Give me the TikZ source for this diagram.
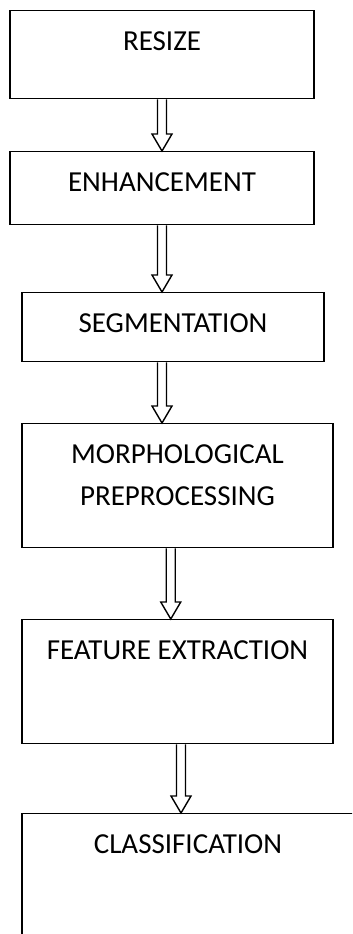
\documentclass[tikz,border=0pt]{standalone}
\usepackage{fontspec}
\setmainfont{Carlito}
\usepackage{tikz}
\usetikzlibrary{calc}
\tikzset{
 stepbox/.style={rectangle,draw,line width=0.8pt,align=center,anchor=north,inner ysep=0pt,inner xsep=0pt,
  text height=0.8cm,font=\fontsize{16.5pt}{23.8pt}\selectfont},
 blockarrow/.style={to path={let \p1=(\tikztostart),\p2=(\tikztotarget) in
  (\x1-0.09cm,\y1)--(\x1-0.09cm,\y2+0.34cm)--(\x1-0.2cm,\y2+0.34cm)--(\x1,\y2)
  --(\x1+0.2cm,\y2+0.34cm)--(\x1+0.09cm,\y2+0.34cm)--(\x1+0.09cm,\y1)}}
}
\begin{document}
\begin{tikzpicture}
\useasboundingbox (0,0) rectangle (7.04,-18.68);
\clip (0,0) rectangle (7.04,-18.68);
\path (3.24,-0.20) node(res)[stepbox,minimum width=6.08cm,text depth=0.96cm]{RESIZE}
(3.24,-3.02) node(enh)[stepbox,minimum width=6.08cm,text depth=0.66cm]{ENHANCEMENT}
(3.46,-5.84) node(seg)[stepbox,minimum width=6.04cm,text depth=0.58cm]{SEGMENTATION}
(3.55,-8.46) node(mor)[stepbox,minimum width=6.22cm,text height=1.64cm,text depth=0.84cm]{MORPHOLOGICAL\\ PREPROCESSING}
(3.55,-12.38) node(fea)[stepbox,minimum width=6.22cm,text depth=1.68cm]{FEATURE EXTRACTION}
(3.76,-16.26) node(cla)[stepbox,minimum width=6.64cm,text depth=1.68cm]{CLASSIFICATION};
\draw[line width=0.8pt](res.south) to[blockarrow] (enh.north);
\draw[line width=0.8pt](enh.south) to[blockarrow] (seg.north);
\draw[line width=0.8pt]([xshift=-0.22cm]seg.south) to[blockarrow] (mor.north);
\draw[line width=0.8pt]([xshift=-0.135cm]mor.south) to[blockarrow] (fea.north);
\draw[line width=0.8pt]([xshift=0.07cm]fea.south) to[blockarrow] (cla.north);

\end{tikzpicture}
\end{document}
